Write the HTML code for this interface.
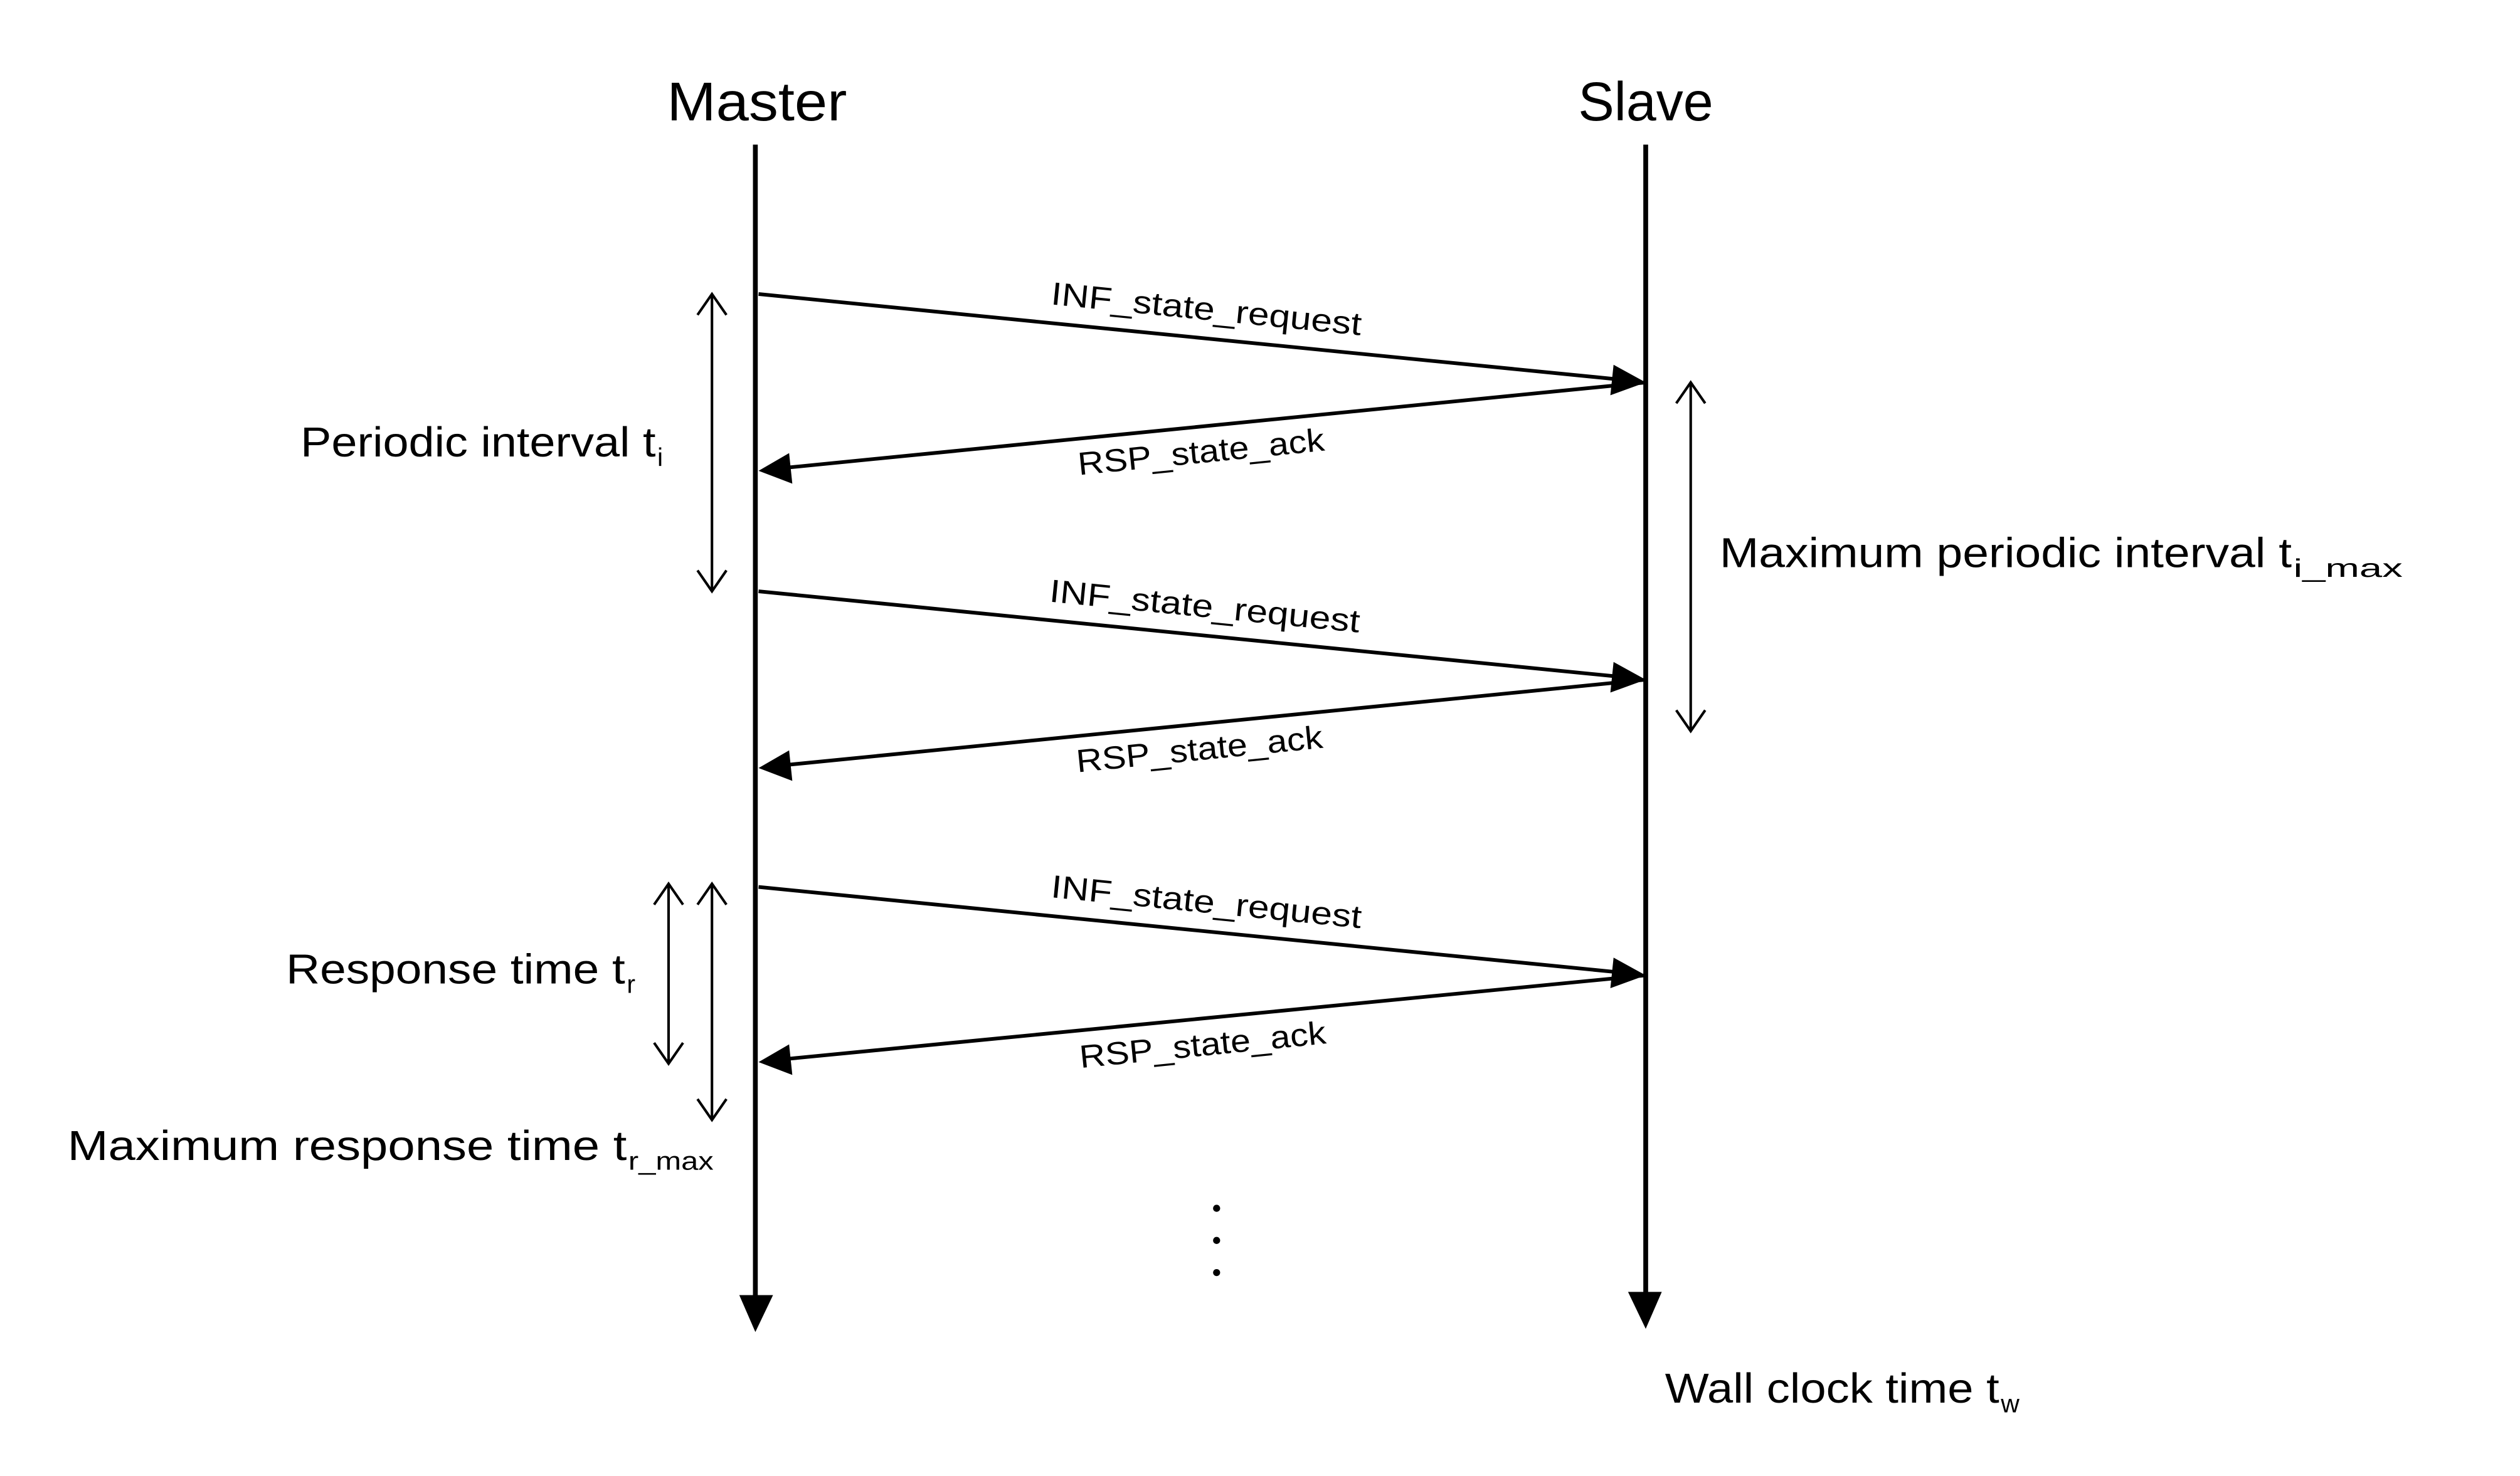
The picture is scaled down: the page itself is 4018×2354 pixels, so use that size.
<!DOCTYPE html>
<html><head><meta charset="utf-8"><style>html,body{margin:0;padding:0;background:#fff}svg{display:block}</style></head>
<body>
<svg width="4018" height="2354" viewBox="0 0 1568 918.6" preserveAspectRatio="none" xmlns="http://www.w3.org/2000/svg" font-family="Liberation Sans, sans-serif" fill="#000">
<rect width="1568" height="919" fill="#fff"/>
<text x="471" y="75" font-size="34" text-anchor="middle" textLength="112" lengthAdjust="spacingAndGlyphs">Master</text>
<text x="1024" y="75" font-size="34" text-anchor="middle" textLength="84" lengthAdjust="spacingAndGlyphs">Slave</text>
<g stroke="#000" stroke-width="3">
<line x1="470" y1="90" x2="470" y2="808"/>
<line x1="1024" y1="90" x2="1024" y2="806"/>
</g>
<path d="M460,806 L481,806 L470,829 z"/>
<path d="M1013,804 L1034,804 L1024,827 z"/>
<g stroke="#000" stroke-width="2.3">
<line x1="472" y1="183" x2="1006" y2="236"/>
<line x1="1024" y1="238" x2="490" y2="291"/>
<line x1="472" y1="368" x2="1006" y2="421"/>
<line x1="1024" y1="423" x2="490" y2="476"/>
<line x1="472" y1="552" x2="1006" y2="605"/>
<line x1="1024" y1="607" x2="490" y2="659"/>
</g>
<g>
<path d="M1024,238 L1004,227 L1002,246 z"/>
<path d="M472,293 L491,282 L493,301 z"/>
<path d="M1024,423 L1004,412 L1002,431 z"/>
<path d="M472,478 L491,467 L493,486 z"/>
<path d="M1024,607 L1004,596 L1002,615 z"/>
<path d="M472,661 L491,650 L493,669 z"/>
</g>
<g font-size="20">
<text transform="translate(750,199) rotate(5.7)" text-anchor="middle" textLength="194" lengthAdjust="spacingAndGlyphs">INF_state_request</text>
<text transform="translate(748,288) rotate(-5.7)" text-anchor="middle" textLength="154" lengthAdjust="spacingAndGlyphs">RSP_state_ack</text>
<text transform="translate(749,384) rotate(5.7)" text-anchor="middle" textLength="194" lengthAdjust="spacingAndGlyphs">INF_state_request</text>
<text transform="translate(747,473) rotate(-5.7)" text-anchor="middle" textLength="154" lengthAdjust="spacingAndGlyphs">RSP_state_ack</text>
<text transform="translate(750,568) rotate(5.7)" text-anchor="middle" textLength="194" lengthAdjust="spacingAndGlyphs">INF_state_request</text>
<text transform="translate(749,657) rotate(-5.7)" text-anchor="middle" textLength="154" lengthAdjust="spacingAndGlyphs">RSP_state_ack</text>
</g>
<g stroke="#000" stroke-width="1.6" fill="none">
<line x1="443" y1="183" x2="443" y2="368"/>
<polyline points="434,196 443,183 452,196"/><polyline points="434,355 443,368 452,355"/>
<line x1="1052" y1="238" x2="1052" y2="455"/>
<polyline points="1043,251 1052,238 1061,251"/><polyline points="1043,442 1052,455 1061,442"/>
<line x1="416" y1="550" x2="416" y2="662"/>
<polyline points="407,563 416,550 425,563"/><polyline points="407,649 416,662 425,649"/>
<line x1="443" y1="550" x2="443" y2="697"/>
<polyline points="434,563 443,550 452,563"/><polyline points="434,684 443,697 452,684"/>
</g>
<g font-size="26">
<text x="187" y="284" textLength="221" lengthAdjust="spacingAndGlyphs">Periodic interval t</text>
<text x="409" y="290" font-size="16">i</text>
<text x="1070" y="353" textLength="356" lengthAdjust="spacingAndGlyphs">Maximum periodic interval t</text>
<text x="1427" y="359" font-size="16" textLength="68" lengthAdjust="spacingAndGlyphs">i_max</text>
<text x="178" y="612" textLength="211" lengthAdjust="spacingAndGlyphs">Response time t</text>
<text x="390" y="618" font-size="16">r</text>
<text x="42" y="722" textLength="348" lengthAdjust="spacingAndGlyphs">Maximum response time t</text>
<text x="391" y="728" font-size="16" textLength="53" lengthAdjust="spacingAndGlyphs">r_max</text>
<text x="1036" y="873" textLength="208" lengthAdjust="spacingAndGlyphs">Wall clock time t</text>
<text x="1245" y="879" font-size="16">w</text>
</g>
<circle cx="757" cy="752" r="2.2"/>
<circle cx="757" cy="772" r="2.2"/>
<circle cx="757" cy="792" r="2.2"/>
</svg>
</body></html>
